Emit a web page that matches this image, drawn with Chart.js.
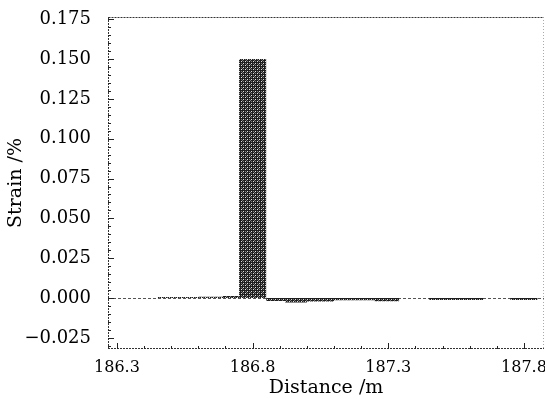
<!DOCTYPE html>
<html><head><meta charset="utf-8">
<script src="https://cdn.jsdelivr.net/npm/chart.js@4"></script>
<style>html,body{margin:0;padding:0;background:#fff}#c{display:block}</style>
</head><body>
<div style="width:545px;height:399px"><canvas id="c" width="545" height="399"></canvas></div>
<script>
// Data (distance edges in m, strain in %; each value holds from its edge to the next)
const distanceEdges = [186.27, 186.45, 186.60, 186.69, 186.75, 186.85, 186.92, 187.00, 187.10, 187.25, 187.34, 187.45, 187.65, 187.75, 187.85, 187.874];
const strainValues  = [0, 0.0006, 0.0008, 0.0013, 0.150, -0.0018, -0.0028, -0.0022, -0.0014, -0.002, 0, -0.0012, 0, -0.0012, 0, 0];
const xTickLabels = [186.3, 186.8, 187.3, 187.8];
const xMinorTicks = [186.3,186.4,186.5,186.6,186.7,186.8,186.9,187.0,187.1,187.2,187.3,187.4,187.5,187.6,187.7,187.8];
const yTickLabels = [-0.025, 0.000, 0.025, 0.050, 0.075, 0.100, 0.125, 0.150, 0.175];
const yMinorStep = 0.005;

function makePattern(){
  const p = document.createElement('canvas'); p.width = 4; p.height = 4;
  const g = p.getContext('2d');
  g.fillStyle = '#1e1e1e'; g.fillRect(0,0,4,4);
  g.fillStyle = '#e0e0e0';
  g.fillRect(1,1,1,1); g.fillRect(3,3,1,1);
  g.fillStyle = '#7a7a7a';
  g.fillRect(3,1,1,1); g.fillRect(1,3,1,1); g.fillRect(2,0,1,1);
  return document.getElementById('c').getContext('2d').createPattern(p,'repeat');
}

const points = distanceEdges.map((d,i)=>({x:d, y:strainValues[i]}));

const frame = {
  id:'frame',
  beforeDatasetsDraw(chart){
    const {ctx, chartArea:a, scales:{y}} = chart;
    const y0 = Math.round(y.getPixelForValue(0))+0.5;
    ctx.save();
    ctx.strokeStyle = '#555'; ctx.lineWidth = 1; ctx.setLineDash([3,2]);
    ctx.beginPath(); ctx.moveTo(a.left, y0); ctx.lineTo(a.right, y0); ctx.stroke();
    ctx.restore();
  },
  afterDraw(chart){
    const {ctx, chartArea:a, scales:{x,y}} = chart;
    ctx.save();
    ctx.lineWidth = 1;
    ctx.strokeStyle = '#333'; ctx.setLineDash([2,1]);
    ctx.beginPath();
    ctx.moveTo(a.left+0.5, a.top+0.5); ctx.lineTo(a.right-0.5, a.top+0.5);
    ctx.moveTo(a.left+0.5, a.top); ctx.lineTo(a.left+0.5, a.bottom);
    ctx.moveTo(a.left, a.bottom-0.5); ctx.lineTo(a.right, a.bottom-0.5);
    ctx.stroke();
    ctx.strokeStyle = '#aaa'; ctx.setLineDash([1,2]);
    ctx.beginPath(); ctx.moveTo(a.right-0.5, a.top); ctx.lineTo(a.right-0.5, a.bottom); ctx.stroke();
    ctx.setLineDash([]);
    ctx.strokeStyle = '#222';
    ctx.beginPath();
    xMinorTicks.forEach(v=>{
      const px = Math.round(x.getPixelForValue(v))+0.5;
      const major = xTickLabels.some(t=>Math.abs(t-v)<1e-6);
      ctx.moveTo(px, a.bottom); ctx.lineTo(px, a.bottom-(major?6:3));
    });
    for(let v=-0.030; v<=0.1751; v+=yMinorStep){
      const py = Math.round(y.getPixelForValue(v))+0.5;
      if(py < a.top || py > a.bottom) continue;
      const major = yTickLabels.some(t=>Math.abs(t-v)<1e-6);
      ctx.moveTo(a.left, py); ctx.lineTo(a.left+(major?6:3), py);
    }
    ctx.stroke();
    ctx.restore();
  }
};

const fam = '"DejaVu Serif", serif';
new Chart(document.getElementById('c'), {
  type:'line',
  data:{datasets:[{
    data:points,
    stepped:'before',
    borderWidth:0,
    pointRadius:0,
    fill:{target:'origin'},
    backgroundColor:makePattern()
  }]},
  options:{
    responsive:false, animation:false, events:[],
    layout:{padding:{top:17,right:1,left:0,bottom:0}},
    plugins:{legend:{display:false}, tooltip:{enabled:false}},
    scales:{
      x:{type:'linear', min:186.267, max:187.874,
        afterBuildTicks(s){ s.ticks = xTickLabels.map(v=>({value:v})); },
        afterFit(s){ s.height = 50; s.paddingLeft = 0; s.paddingRight = 0; },
        grid:{display:false}, border:{display:false},
        ticks:{color:'#000', font:{family:fam,size:16}, padding:1, maxRotation:0,
          callback:v=>v.toFixed(1)},
        title:{display:true, text:'Distance /m', color:'#000', font:{family:fam,size:19}, padding:{top:-8,bottom:0}}
      },
      y:{min:-0.032, max:0.1764,
        afterBuildTicks(s){ s.ticks = yTickLabels.map(v=>({value:v})); },
        afterFit(s){ s.width = 108; s.paddingTop = 0; s.paddingBottom = 0; },
        grid:{display:false}, border:{display:false},
        ticks:{color:'#000', font:{family:fam,size:18}, padding:9,
          callback:v=> (v<0?'\u2212':'') + Math.abs(v).toFixed(3)},
        title:{display:true, text:'Strain /%', color:'#000', font:{family:fam,size:19}, padding:{top:5,bottom:0}}
      }
    }
  },
  plugins:[frame]
});
</script>
</body></html>
